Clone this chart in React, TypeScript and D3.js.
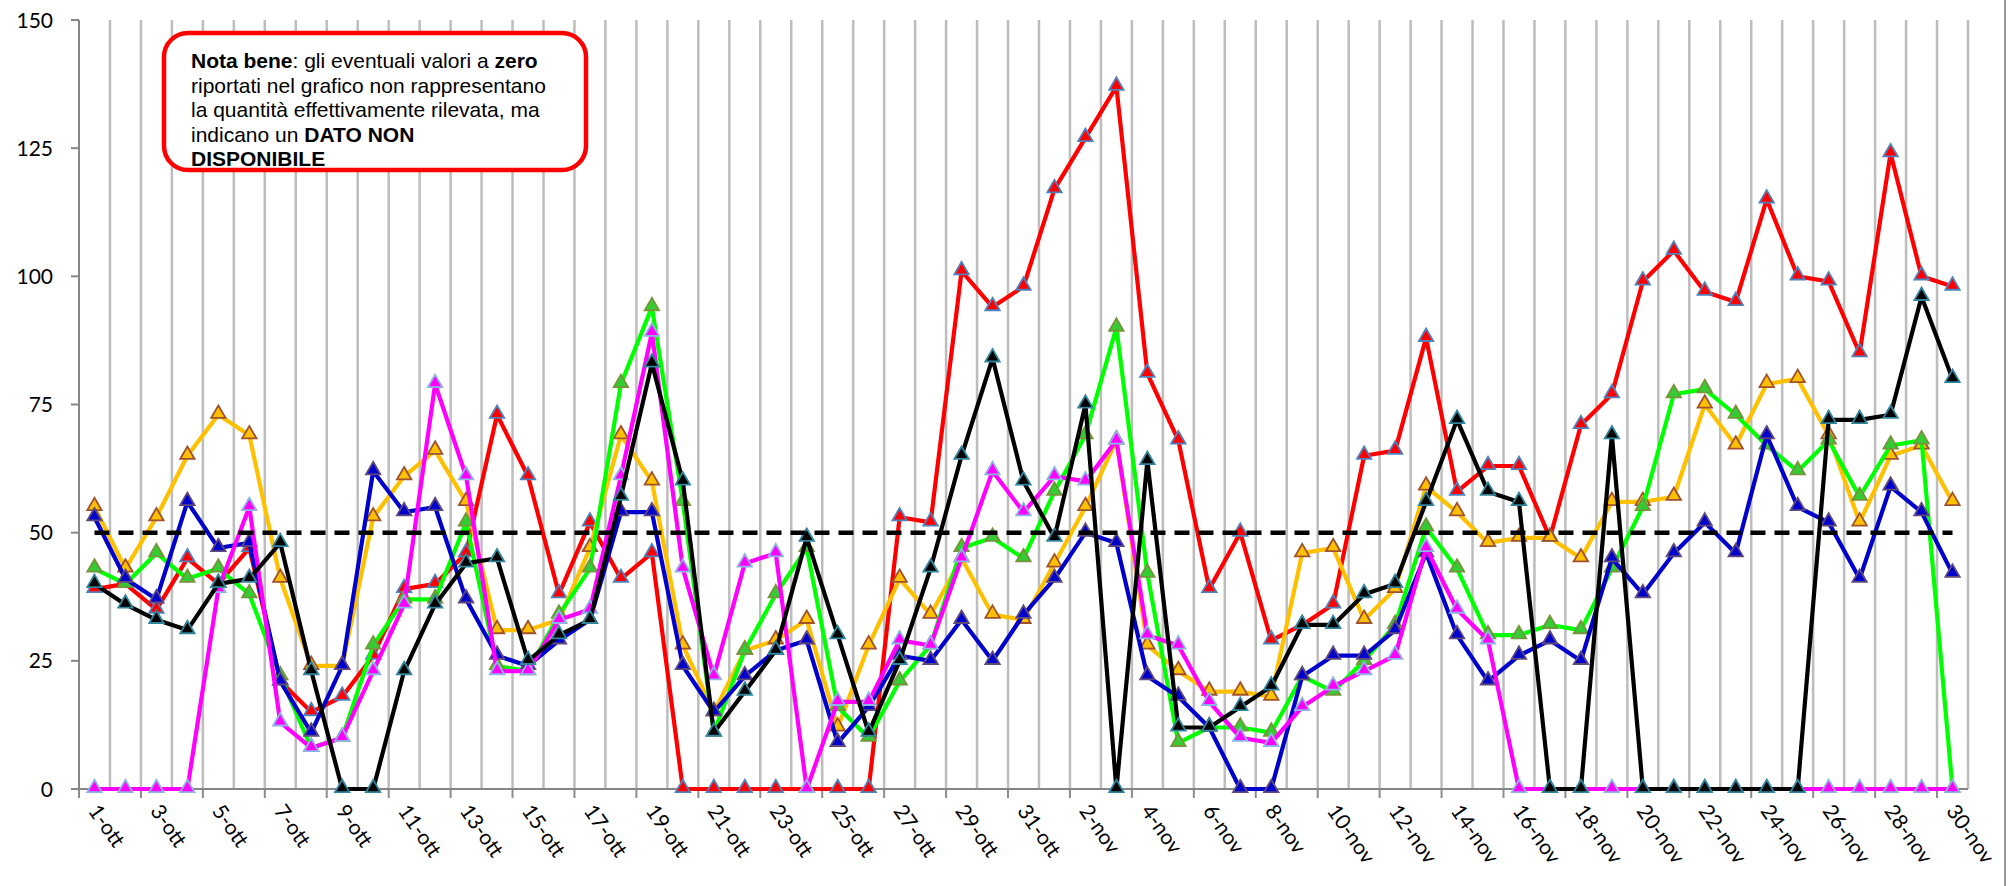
import { useRef, useEffect } from "react";
import { select, scaleBand, scaleLinear, line, symbol, symbolTriangle } from "d3";

// giorni (ottobre - novembre)
const giorni = [
  "1-ott", "2-ott", "3-ott", "4-ott", "5-ott", "6-ott", "7-ott", "8-ott", "9-ott", "10-ott",
  "11-ott", "12-ott", "13-ott", "14-ott", "15-ott", "16-ott", "17-ott", "18-ott", "19-ott", "20-ott",
  "21-ott", "22-ott", "23-ott", "24-ott", "25-ott", "26-ott", "27-ott", "28-ott", "29-ott", "30-ott",
  "31-ott", "1-nov", "2-nov", "3-nov", "4-nov", "5-nov", "6-nov", "7-nov", "8-nov", "9-nov",
  "10-nov", "11-nov", "12-nov", "13-nov", "14-nov", "15-nov", "16-nov", "17-nov", "18-nov", "19-nov",
  "20-nov", "21-nov", "22-nov", "23-nov", "24-nov", "25-nov", "26-nov", "27-nov", "28-nov", "29-nov",
  "30-nov",
];

const serieRossa = [
  39, 40, 35, 45, 40, 47, 21, 15, 18, 26, 39, 40, 46, 73, 61, 38, 52, 41, 46, 0,
  0, 0, 0, 0, 0, 0, 53, 52, 101, 94, 98, 117, 127, 137, 81, 68, 39, 50, 29, 32,
  36, 65, 66, 88, 58, 63, 63, 49, 71, 77, 99, 105, 97, 95, 115, 100, 99, 85, 124, 100,
  98,
];
const serieArancio = [
  55, 43, 53, 65, 73, 69, 41, 24, 24, 53, 61, 66, 56, 31, 31, 33, 47, 69, 60, 28,
  15, 27, 29, 33, 12, 28, 41, 34, 45, 34, 33, 44, 55, 68, 28, 23, 19, 19, 18, 46,
  47, 33, 39, 59, 54, 48, 49, 49, 45, 56, 56, 57, 75, 67, 79, 80, 69, 52, 65, 67,
  56,
];
const serieVerde = [
  43, 40, 46, 41, 43, 38, 22, 8, 10, 28, 37, 37, 52, 24, 23, 34, 43, 79, 94, 56,
  11, 27, 38, 47, 16, 10, 21, 28, 47, 49, 45, 58, 69, 90, 42, 9, 12, 12, 11, 22,
  19, 25, 32, 51, 43, 30, 30, 32, 31, 43, 55, 77, 78, 73, 67, 62, 68, 57, 67, 68,
  0,
];
const serieBlu = [
  53, 41, 37, 56, 47, 48, 21, 11, 24, 62, 54, 55, 37, 26, 24, 29, 33, 54, 54, 24,
  15, 22, 27, 29, 9, 16, 26, 25, 33, 25, 34, 41, 50, 48, 22, 18, 12, 0, 0, 22,
  26, 26, 31, 46, 30, 21, 26, 29, 25, 45, 38, 46, 52, 46, 69, 55, 52, 41, 59, 54,
  42,
];
const serieMagenta = [
  0, 0, 0, 0, 39, 55, 13, 8, 10, 23, 36, 79, 61, 23, 23, 33, 35, 61, 89, 43,
  22, 44, 46, 0, 17, 17, 29, 28, 45, 62, 54, 61, 60, 68, 30, 28, 17, 10, 9, 16,
  20, 23, 26, 47, 35, 29, 0, 0, 0, 0, 0, 0, 0, 0, 0, 0, 0, 0, 0, 0,
  0,
];
const serieNera = [
  40, 36, 33, 31, 40, 41, 48, 23, 0, 0, 23, 36, 44, 45, 25, 30, 33, 57, 83, 60,
  11, 19, 27, 49, 30, 11, 25, 43, 65, 84, 60, 49, 75, 0, 64, 12, 12, 16, 20, 32,
  32, 38, 40, 56, 72, 58, 56, 0, 0, 69, 0, 0, 0, 0, 0, 0, 72, 72, 73, 96,
  80,
];

const soglia = 50;
const yTicks = [0, 25, 50, 75, 100, 125, 150];

const serie = [
  { values: serieRossa, color: "#ff0000", marker: "#ff0000", edge: "#4f81bd" },
  { values: serieArancio, color: "#ffc000", marker: "#ffc000", edge: "#a0522d" },
  { values: serieVerde, color: "#00ff00", marker: "#33cc33", edge: "#77933c" },
  { values: serieBlu, color: "#0000cc", marker: "#0000cc", edge: "#604a7b" },
  { values: serieMagenta, color: "#ff00ff", marker: "#ff00ff", edge: "#8eb4e3" },
  { values: serieNera, color: "#000000", marker: "#000000", edge: "#31859c" },
];

const width = 2011;
const height = 886;
const margin = { top: 20, right: 43, bottom: 97, left: 79 };

const App = () => {
  const svgRef = useRef(null);

  useEffect(() => {
    const svg = select(svgRef.current);
    svg.selectAll("*").remove();

    const left = margin.left;
    const right = width - margin.right;
    const bottom = height - margin.bottom;

    const x = scaleBand().domain(giorni).range([left, right]);
    const y = scaleLinear().domain([0, 150]).range([bottom, margin.top]);
    const cx = (i) => x(giorni[i]) + x.bandwidth() / 2;

    // bordo destro dell'area grafico
    svg
      .append("line")
      .attr("x1", 2005)
      .attr("x2", 2005)
      .attr("y1", 0)
      .attr("y2", height)
      .attr("stroke", "#9a9a9a")
      .attr("stroke-width", 2);

    // griglia verticale (una linea per ogni giorno)
    const bounds = giorni.map((d) => x(d)).concat([right]);
    svg
      .append("g")
      .selectAll("line")
      .data(bounds.slice(1))
      .join("line")
      .attr("x1", (d) => d)
      .attr("x2", (d) => d)
      .attr("y1", y(150))
      .attr("y2", bottom)
      .attr("stroke", "#bdbdbd")
      .attr("stroke-width", 2.5);

    // tacche asse x ogni due giorni
    svg
      .append("g")
      .selectAll("line")
      .data(bounds.filter((d, i) => i % 2 === 0 && i < giorni.length))
      .join("line")
      .attr("x1", (d) => d)
      .attr("x2", (d) => d)
      .attr("y1", bottom)
      .attr("y2", bottom + 9)
      .attr("stroke", "#8c8c8c")
      .attr("stroke-width", 2);

    // asse y
    svg
      .append("line")
      .attr("x1", left)
      .attr("x2", left)
      .attr("y1", y(150))
      .attr("y2", bottom)
      .attr("stroke", "#868686")
      .attr("stroke-width", 2);

    const yAxis = svg.append("g");
    yAxis
      .selectAll("line")
      .data(yTicks)
      .join("line")
      .attr("x1", left - 8)
      .attr("x2", left)
      .attr("y1", (d) => y(d))
      .attr("y2", (d) => y(d))
      .attr("stroke", "#868686")
      .attr("stroke-width", 2);
    yAxis
      .selectAll("text")
      .data(yTicks)
      .join("text")
      .attr("x", 53)
      .attr("y", (d) => y(d))
      .attr("dy", "0.36em")
      .attr("text-anchor", "end")
      .style("font-family", "Lato, sans-serif")
      .style("font-size", "21px")
      .attr("fill", "#000")
      .text((d) => d);

    // asse x
    svg
      .append("line")
      .attr("x1", left - 8)
      .attr("x2", right)
      .attr("y1", bottom)
      .attr("y2", bottom)
      .attr("stroke", "#868686")
      .attr("stroke-width", 2);

    svg
      .append("g")
      .selectAll("text")
      .data(giorni.filter((d, i) => i % 2 === 0))
      .join("text")
      .attr("transform", (d) => {
        const px = cx(giorni.indexOf(d)) - 7;
        return `translate(${px}, ${bottom + 22}) rotate(55)`;
      })
      .attr("text-anchor", "start")
      .style("font-family", "Lato, sans-serif")
      .style("font-size", "21px")
      .attr("fill", "#000")
      .text((d) => d);

    // serie
    const tri = symbol().type(symbolTriangle).size(90);
    serie.forEach((s) => {
      const g = svg.append("g");
      g.append("path")
        .datum(s.values)
        .attr("fill", "none")
        .attr("stroke", s.color)
        .attr("stroke-width", 4.2)
        .attr("stroke-linejoin", "round")
        .attr(
          "d",
          line()
            .x((d, i) => cx(i))
            .y((d) => y(d))
        );
      g.selectAll(".mk")
        .data(s.values)
        .join("path")
        .attr("class", "mk")
        .attr("d", tri)
        .attr("transform", (d, i) => `translate(${cx(i)}, ${y(d) - 1})`)
        .attr("fill", s.marker)
        .attr("stroke", s.edge)
        .attr("stroke-width", 1.8);
    });

    // soglia tratteggiata
    svg
      .append("line")
      .attr("x1", cx(0))
      .attr("x2", cx(giorni.length - 1))
      .attr("y1", y(soglia))
      .attr("y2", y(soglia))
      .attr("stroke", "#000")
      .attr("stroke-width", 4.5)
      .attr("stroke-dasharray", "15,9");

    // nota
    const nota = svg.append("g");
    nota
      .append("rect")
      .attr("x", 164)
      .attr("y", 33)
      .attr("width", 422)
      .attr("height", 137)
      .attr("rx", 24)
      .attr("fill", "#fff")
      .attr("stroke", "#ff0000")
      .attr("stroke-width", 4.5);

    const righe = [
      [["Nota bene", true], [": gli eventuali valori a ", false], ["zero", true]],
      [["riportati nel grafico non rappresentano", false]],
      [["la quantità effettivamente rilevata, ma", false]],
      [["indicano un ", false], ["DATO NON", true]],
      [["DISPONIBILE", true]],
    ];
    righe.forEach((riga, i) => {
      const t = nota
        .append("text")
        .attr("x", 191)
        .attr("y", 68 + i * 24.6)
        .style("font-family", "'Liberation Sans', Arial, sans-serif")
        .style("font-size", "21px")
        .attr("fill", "#000");
      riga.forEach(([txt, bold]) => {
        t.append("tspan")
          .style("font-weight", bold ? "bold" : "normal")
          .text(txt);
      });
    });
  }, []);

  return (
    <div style={{ position: "fixed", left: 0, top: 0, background: "#fff" }}>
      <svg ref={svgRef} width={width} height={height}></svg>
    </div>
  );
};

export default App;
